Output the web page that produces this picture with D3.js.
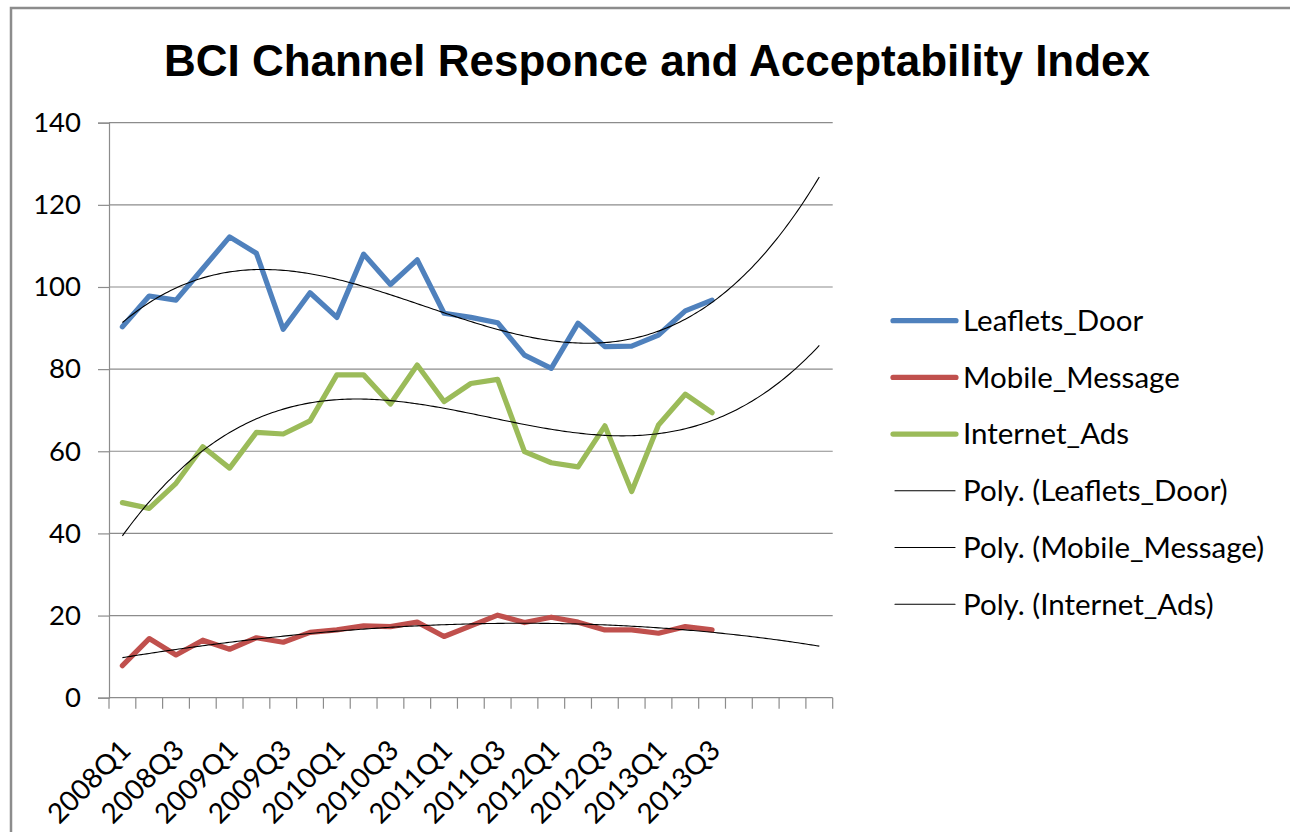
<!DOCTYPE html>
<html>
<head>
<meta charset="utf-8">
<script src="https://cdn.jsdelivr.net/npm/d3@7"></script>
<style>
  html, body { margin: 0; padding: 0; background: #fff; }
  svg { display: block; }
</style>
</head>
<body>
<svg id="chart" width="1290" height="832"></svg>
<script>
// Quarterly index values per channel
const quarters = ["2008Q1","2008Q2","2008Q3","2008Q4","2009Q1","2009Q2","2009Q3","2009Q4",
  "2010Q1","2010Q2","2010Q3","2010Q4","2011Q1","2011Q2","2011Q3","2011Q4",
  "2012Q1","2012Q2","2012Q3","2012Q4","2013Q1","2013Q2","2013Q3"];
const forecastPeriods = 4;   // empty slots the trendlines run on into

const leafletsDoor = [90.3,97.8,96.8,104.5,112.2,108.2,89.7,98.6,92.6,108.0,100.6,106.6,
  93.6,92.6,91.3,83.4,80.2,91.2,85.5,85.6,88.3,94.2,96.8];
const mobileMessage = [7.8,14.4,10.4,14.0,11.8,14.6,13.5,15.9,16.5,17.5,17.3,18.4,
  14.9,17.5,20.1,18.3,19.6,18.4,16.5,16.5,15.7,17.3,16.5];
const internetAds = [47.5,46.1,52.2,61.1,55.9,64.6,64.2,67.4,78.6,78.6,71.5,81.0,
  72.1,76.5,77.5,59.9,57.2,56.2,66.2,50.2,66.4,73.9,69.4];

const seriesNames = ["Leaflets_Door","Mobile_Message","Internet_Ads"];
const seriesColors = ["#4F81BD","#C0504D","#9BBB59"];
const yTicks = [0,20,40,60,80,100,120,140];
const trendOrder = 3;

const svg = d3.select("#chart");

// chart frame
svg.append("rect").attr("x", 11).attr("y", 8).attr("width", 1300).attr("height", 900)
  .attr("fill", "#fff").attr("stroke", "#8c8c8c").attr("stroke-width", 2.5);

svg.append("text")
  .attr("x", 657).attr("y", 76)
  .attr("text-anchor", "middle")
  .style("font-family", "'Liberation Sans', Arial, sans-serif")
  .style("font-weight", "bold").style("font-size", "44px")
  .text("BCI Channel Responce and Acceptability Index");

const slots = d3.range(quarters.length + forecastPeriods);
const x = d3.scaleBand().domain(slots).range([109, 832.7]).padding(0);
const cx = i => x(i) + x.bandwidth() / 2;
const y = d3.scaleLinear().domain([0, 140]).range([697.7, 122.7]);

// horizontal gridlines
svg.append("g").selectAll("line").data(yTicks.filter(v => v > 0)).join("line")
  .attr("x1", 109).attr("x2", 832.7)
  .attr("y1", d => y(d)).attr("y2", d => y(d))
  .attr("stroke", "#8c8c8c").attr("stroke-width", 1.2);

// y axis
const yAxis = svg.append("g").attr("transform", "translate(109,0)")
  .call(d3.axisLeft(y).tickValues(yTicks).tickSize(11).tickPadding(17));
yAxis.select(".domain").attr("stroke", "#8c8c8c").attr("stroke-width", 1.2);
yAxis.selectAll(".tick line").attr("stroke", "#8c8c8c").attr("stroke-width", 1.2);
yAxis.selectAll("text").attr("fill", "#000")
  .style("font-family", "Lato, 'Open Sans', sans-serif").style("font-size", "27.5px");

// x axis: ticks at category boundaries
const bounds = d3.range(slots.length + 1).map(i => 109 + i * x.bandwidth());
svg.append("line").attr("x1", 109).attr("x2", 832.7)
  .attr("y1", y(0)).attr("y2", y(0)).attr("stroke", "#8c8c8c").attr("stroke-width", 1.2);
svg.append("g").selectAll("line").data(bounds).join("line")
  .attr("x1", d => d).attr("x2", d => d)
  .attr("y1", y(0)).attr("y2", y(0) + 11)
  .attr("stroke", "#8c8c8c").attr("stroke-width", 1.2);

svg.append("g").selectAll("text")
  .data(quarters.map((q, i) => ({q, i})).filter(d => d.i % 2 === 0))
  .join("text")
  .attr("transform", d => `translate(${cx(d.i) + 10},${752}) rotate(-45)`)
  .attr("text-anchor", "end")
  .style("font-family", "Lato, 'Open Sans', sans-serif").style("font-size", "28px")
  .text(d => d.q);

// least-squares polynomial fit on x = 1..n
function polyfit(ys, order) {
  const m = order + 1;
  const A = Array.from({length: m}, () => new Array(m + 1).fill(0));
  ys.forEach((v, k) => {
    const xv = k + 1;
    for (let r = 0; r < m; r++) {
      for (let c = 0; c < m; c++) A[r][c] += Math.pow(xv, r + c);
      A[r][m] += v * Math.pow(xv, r);
    }
  });
  for (let col = 0; col < m; col++) {
    let piv = col;
    for (let r = col + 1; r < m; r++) if (Math.abs(A[r][col]) > Math.abs(A[piv][col])) piv = r;
    [A[col], A[piv]] = [A[piv], A[col]];
    for (let r = 0; r < m; r++) {
      if (r === col) continue;
      const f = A[r][col] / A[col][col];
      for (let c = col; c <= m; c++) A[r][c] -= f * A[col][c];
    }
  }
  return A.map((row, i) => row[m] / row[i]);
}
const evalPoly = (coef, xv) => coef.reduce((s, c, i) => s + c * Math.pow(xv, i), 0);

const tx = d3.scaleLinear().domain([1, slots.length]).range([cx(0), cx(slots.length - 1)]);
const trendX = d3.range(1, slots.length + 0.001, 0.1);
const curve = d3.line().x(d => tx(d[0])).y(d => y(d[1]));

const allSeries = [leafletsDoor, mobileMessage, internetAds];
const line = d3.line().x((d, i) => cx(i)).y(d => y(d));

// data lines
allSeries.forEach((vals, s) => {
  svg.append("path").datum(vals)
    .attr("d", line).attr("fill", "none")
    .attr("stroke", seriesColors[s]).attr("stroke-width", 5.2)
    .attr("stroke-linejoin", "round").attr("stroke-linecap", "round");
});

// polynomial trendlines
allSeries.forEach(vals => {
  const coef = polyfit(vals, trendOrder);
  svg.append("path").datum(trendX.map(t => [t, evalPoly(coef, t)]))
    .attr("d", curve).attr("fill", "none")
    .attr("stroke", "#000").attr("stroke-width", 1.1);
});

// legend
const legendItems = seriesNames.map((n, i) => ({label: n, color: seriesColors[i], w: 5.2}))
  .concat(seriesNames.map(n => ({label: `Poly. (${n})`, color: "#000", w: 1.1})));
const lg = svg.append("g").selectAll("g").data(legendItems).join("g")
  .attr("transform", (d, i) => `translate(0,${320.7 + i * 56.7})`);
lg.append("line").attr("x1", d => d.w > 2 ? 893 : 895).attr("x2", d => d.w > 2 ? 956 : 955)
  .attr("stroke", d => d.color).attr("stroke-width", d => d.w).attr("stroke-linecap", "round");
lg.append("text").attr("x", 963).attr("dy", "0.35em")
  .style("font-family", "Lato, 'Open Sans', sans-serif").style("font-size", "29.5px")
  .text(d => d.label);
</script>
</body>
</html>
